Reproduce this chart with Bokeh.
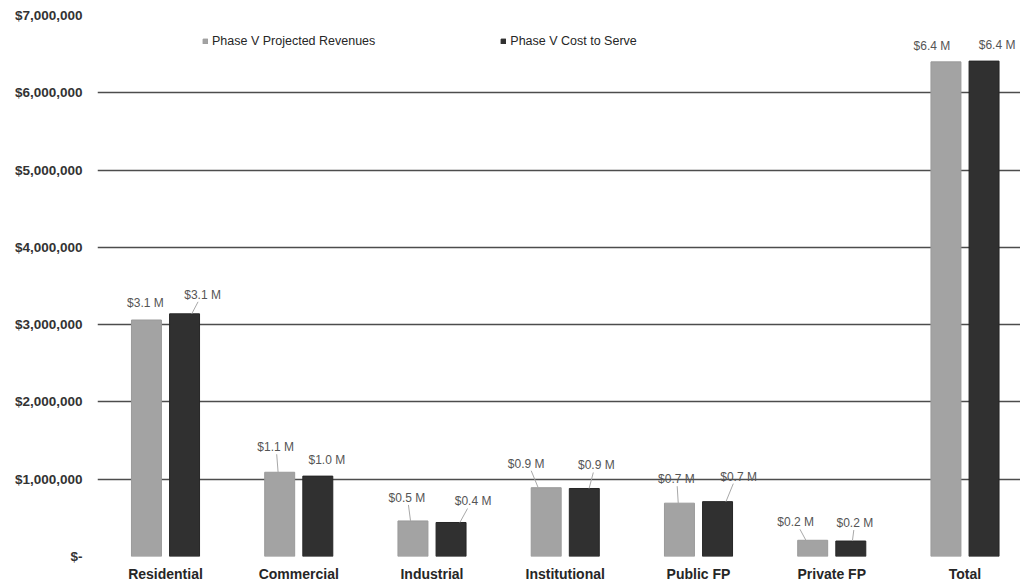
import numpy as np
from bokeh.plotting import figure
from bokeh.models import (ColumnDataSource, Range1d, FixedTicker,
                          NumeralTickFormatter, Legend, LegendItem)
from bokeh.transform import dodge
from bokeh.core.properties import value
from bokeh.embed import file_html
from bokeh.resources import INLINE

# ---------------- data ----------------
categories = ["Residential", "Commercial", "Industrial", "Institutional",
              "Public FP", "Private FP", "Total"]
projected_revenues = [3.06e6, 1.09e6, 0.46e6, 0.89e6, 0.69e6, 0.21e6, 6.40e6]
cost_to_serve = [3.14e6, 1.04e6, 0.44e6, 0.88e6, 0.71e6, 0.20e6, 6.41e6]
series_names = ["Phase V Projected Revenues", "Phase V Cost to Serve"]
y_ticks = [0, 1e6, 2e6, 3e6, 4e6, 5e6, 6e6, 7e6]

# ---------------- label placement (screen px, style only) ----------------
rev_label_dx = [-1, -4, -6, -20, -3, -17, -14]
rev_label_dy = [17, 25, 23, 24, 24, 18, 16]
rev_leader = [False, True, True, True, True, True, False]
cost_label_dx = [18, 9, 22, 12, 21, 4, 13]
cost_label_dy = [19, 16, 21, 23, 25, 18, 16]
cost_leader = [True, False, True, True, True, True, False]

# ---------------- layout / style ----------------
W, H = 1020, 585
LEFT, RIGHT, TOP, BOTTOM = 97, 0, 15, 29
FRAME_W, FRAME_H = W - LEFT - RIGHT, H - TOP - BOTTOM
CAT_PX = 133.25                    # px per category
X_START = -(165 - LEFT) / CAT_PX
X_END = X_START + FRAME_W / CAT_PX
Y_END = 7e6
PX_X = FRAME_W / (X_END - X_START)
PX_Y = FRAME_H / Y_END
OFF = 0.143
BAR_W = 0.225
LIGHT = "#a3a3a3"
DARK = "#303030"
FONT = "Liberation Sans"

idx = np.arange(len(categories))
rev = np.array(projected_revenues)
cost = np.array(cost_to_serve)

def fmt(v):
    return "${:.1f} M".format(v / 1e6)

src = ColumnDataSource(dict(
    x=idx, rev=rev, cost=cost,
    rev_lbl=[fmt(v) for v in rev], cost_lbl=[fmt(v) for v in cost],
    rev_xo=rev_label_dx, rev_yo=[-d for d in rev_label_dy],
    cost_xo=cost_label_dx, cost_yo=[-d for d in cost_label_dy],
))

p = figure(width=W, height=H, output_backend="svg", toolbar_location=None,
           x_range=Range1d(X_START, X_END), y_range=Range1d(0, Y_END),
           min_border_left=LEFT, min_border_right=RIGHT,
           min_border_top=TOP, min_border_bottom=BOTTOM)
p.outline_line_color = None
p.background_fill_color = "white"
p.border_fill_color = "white"

# grid
p.xgrid.grid_line_color = None
p.ygrid.ticker = FixedTicker(ticks=[t for t in y_ticks if t > 0])
p.ygrid.grid_line_color = "#4d4d4d"
p.ygrid.grid_line_width = 1.4

# bars
r_rev = p.vbar(x=dodge("x", -OFF), top="rev", width=BAR_W, source=src,
               fill_color=LIGHT, line_color="#9a9a9a", line_width=1)
r_cost = p.vbar(x=dodge("x", OFF), top="cost", width=BAR_W, source=src,
                fill_color=DARK, line_color="#262626", line_width=1)

# leader lines (from bar top toward label, converted from px offsets)
def leaders(vals, dxs, dys, flags, off):
    x0, y0, x1, y1 = [], [], [], []
    for i, (v, dx, dy, f) in enumerate(zip(vals, dxs, dys, flags)):
        if not f:
            continue
        x0.append(i + off + 0.4 * dx / PX_X)
        y0.append(v)
        x1.append(i + off + 0.75 * dx / PX_X)
        y1.append(v + (dy - 7) / PX_Y)
    return dict(x0=x0, y0=y0, x1=x1, y1=y1)

p.segment(source=ColumnDataSource(leaders(rev, rev_label_dx, rev_label_dy, rev_leader, -OFF)),
          x0="x0", y0="y0", x1="x1", y1="y1", line_color="#a8a8a8", line_width=1)
p.segment(source=ColumnDataSource(leaders(cost, cost_label_dx, cost_label_dy, cost_leader, OFF)),
          x0="x0", y0="y0", x1="x1", y1="y1", line_color="#a8a8a8", line_width=1)

# data labels
p.text(x=dodge("x", -OFF), y="rev", text="rev_lbl", x_offset="rev_xo", y_offset="rev_yo",
       source=src, text_align="center", text_baseline="middle",
       text_font=value(FONT), text_font_size="12px", text_color="#555555")
p.text(x=dodge("x", OFF), y="cost", text="cost_lbl", x_offset="cost_xo", y_offset="cost_yo",
       source=src, text_align="center", text_baseline="middle",
       text_font=value(FONT), text_font_size="12px", text_color="#555555")

# axes
xa = p.xaxis[0]
xa.ticker = FixedTicker(ticks=list(idx))
xa.major_label_overrides = {int(i): c for i, c in zip(idx, categories)}
xa.axis_line_color = None
xa.major_tick_line_color = None
xa.minor_tick_line_color = None
xa.major_tick_out = 0
xa.major_label_standoff = 9
xa.major_label_text_font = FONT
xa.major_label_text_font_size = "14px"
xa.major_label_text_font_style = "bold"
xa.major_label_text_color = "#262626"

ya = p.yaxis[0]
ya.ticker = FixedTicker(ticks=y_ticks)
ya.formatter = NumeralTickFormatter(format="$0,0")
ya.major_label_overrides = {0: "$-"}
ya.axis_line_color = None
ya.major_tick_line_color = None
ya.minor_tick_line_color = None
ya.major_tick_out = 0
ya.major_label_standoff = 15
ya.major_label_text_font = FONT
ya.major_label_text_font_size = "13.5px"
ya.major_label_text_font_style = "bold"
ya.major_label_text_color = "#333333"

# legend
legend = Legend(items=[LegendItem(label=series_names[0], renderers=[r_rev]),
                       LegendItem(label=series_names[1], renderers=[r_cost])],
                orientation="horizontal", location=(105, FRAME_H - 33),
                glyph_width=6, glyph_height=6, label_height=14,
                label_standoff=4, spacing=125, padding=0, margin=0,
                border_line_color=None, background_fill_alpha=0,
                label_text_font=FONT, label_text_font_size="12.5px",
                label_text_color="#262626")
p.add_layout(legend)

open("out.html", "w").write(file_html(p, INLINE))
